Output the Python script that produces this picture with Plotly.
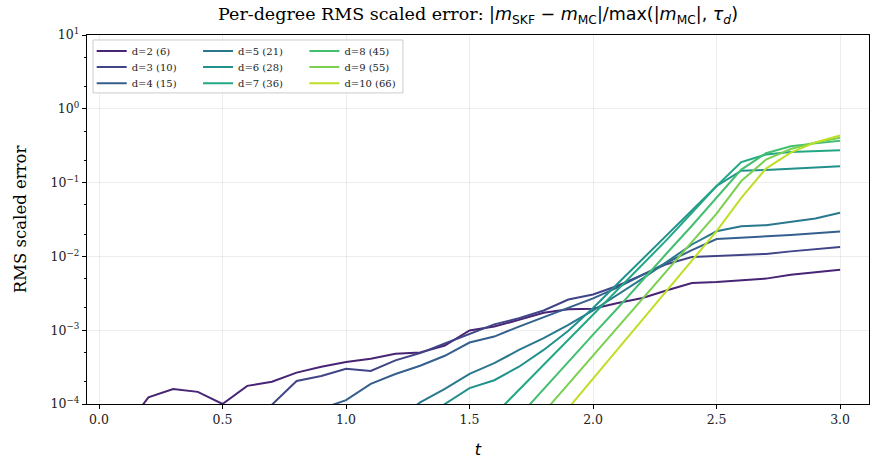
import plotly.graph_objects as go

t = [0.0, 0.1, 0.2, 0.3, 0.4, 0.5, 0.6, 0.7, 0.8, 0.9, 1.0,
     1.1, 1.2, 1.3, 1.4, 1.5, 1.6, 1.7, 1.8, 1.9, 2.0,
     2.1, 2.2, 2.3, 2.4, 2.5, 2.6, 2.7, 2.8, 2.9, 3.0]

N = None
d2 = [N, 4.4e-5, 1.23e-4, 1.6e-4, 1.46e-4, 1.0e-4, 1.76e-4, 2.0e-4, 2.66e-4, 3.2e-4, 3.7e-4,
      4.1e-4, 4.8e-4, 5.0e-4, 6.2e-4, 9.9e-4, 1.12e-3, 1.38e-3, 1.72e-3, 1.92e-3, 1.95e-3,
      2.33e-3, 2.73e-3, 3.47e-3, 4.37e-3, 4.5e-3, 4.75e-3, 5.0e-3, 5.66e-3, 6.1e-3, 6.6e-3]
d3 = [N, N, N, N, N, N, 4e-5, 0.98e-4, 2.05e-4, 2.4e-4, 3.0e-4,
      2.8e-4, 3.9e-4, 4.9e-4, 6.6e-4, 8.8e-4, 1.2e-3, 1.45e-3, 1.85e-3, 2.6e-3, 3.05e-3,
      4.0e-3, 5.6e-3, 7.9e-3, 9.8e-3, 1.01e-2, 1.04e-2, 1.08e-2, 1.17e-2, 1.25e-2, 1.34e-2]
d4 = [N, N, N, N, N, N, N, N, N, 8.6e-5, 1.13e-4,
      1.87e-4, 2.55e-4, 3.3e-4, 4.5e-4, 6.8e-4, 8.2e-4, 1.12e-3, 1.5e-3, 2.0e-3, 2.7e-3,
      3.8e-3, 5.6e-3, 8.4e-3, 1.22e-2, 1.72e-2, 1.78e-2, 1.85e-2, 1.95e-2, 2.06e-2, 2.17e-2]
d5 = [N, N, N, N, N, N, N, N, N, N, N,
      N, 6e-5, 1.05e-4, 1.6e-4, 2.56e-4, 3.57e-4, 5.4e-4, 7.8e-4, 1.18e-3, 1.85e-3,
      3.0e-3, 5.0e-3, 8.5e-3, 1.45e-2, 2.19e-2, 2.56e-2, 2.65e-2, 2.94e-2, 3.27e-2, 3.9e-2]
d6 = [N, N, N, N, N, N, N, N, N, N, N,
      N, N, 5e-5, 1.0e-4, 1.64e-4, 2.1e-4, 3.2e-4, 5.4e-4, 9.8e-4, 2.0e-3,
      4.3e-3, 9.1e-3, 1.95e-2, 4.2e-2, 9.0e-2, 0.145, 0.148, 0.153, 0.159, 0.166]
d7 = [N, N, N, N, N, N, N, N, N, N, N,
      N, N, N, N, N, 7.1e-5, 1.55e-4, 3.4e-4, 7.4e-4, 1.62e-3,
      3.5e-3, 7.8e-3, 1.7e-2, 3.9e-2, 9.0e-2, 0.19, 0.24, 0.26, 0.27, 0.275]
d8 = [N, N, N, N, N, N, N, N, N, N, N,
      N, N, N, N, N, N, 6.8e-5, 1.6e-4, 3.7e-4, 8.7e-4,
      2.0e-3, 4.8e-3, 1.12e-2, 2.6e-2, 6.2e-2, 0.15, 0.25, 0.31, 0.34, 0.37]
d9 = [N, N, N, N, N, N, N, N, N, N, N,
      N, N, N, N, N, N, N, 7.7e-5, 1.86e-4, 4.5e-4,
      1.1e-3, 2.66e-3, 6.5e-3, 1.56e-2, 3.8e-2, 0.105, 0.205, 0.285, 0.35, 0.405]
d10 = [N, N, N, N, N, N, N, N, N, N, N,
       N, N, N, N, N, N, N, 3.5e-5, 8.8e-5, 2.2e-4,
       5.5e-4, 1.39e-3, 3.5e-3, 8.8e-3, 2.2e-2, 0.062, 0.155, 0.255, 0.35, 0.435]

labels = ["d=2 (6)", "d=3 (10)", "d=4 (15)", "d=5 (21)", "d=6 (28)",
          "d=7 (36)", "d=8 (45)", "d=9 (55)", "d=10 (66)"]
series = [d2, d3, d4, d5, d6, d7, d8, d9, d10]
colors = ["#482475", "#414487", "#355f8d", "#2a788e", "#21918c",
          "#22a884", "#44bf70", "#7ad151", "#bddf26"]

x_ticks = [0.0, 0.5, 1.0, 1.5, 2.0, 2.5, 3.0]
y_tickvals = [1e-4, 1e-3, 1e-2, 1e-1, 1e0, 1e1]
y_ticktext = ["10<sup>−4</sup>", "10<sup>−3</sup>", "10<sup>−2</sup>",
              "10<sup>−1</sup>", "10<sup>0</sup>", "10<sup>1</sup>"]

SERIF = "DejaVu Serif"
SANS = "DejaVu Sans"

fig = go.Figure()

# legend grid layout (3 columns, column-major like matplotlib ncol=3)
col_x = [0.006, 0.142, 0.278]
row_y = [0.9565, 0.913, 0.869]

for i, (lab, ys, c) in enumerate(zip(labels, series, colors)):
    lname = "legend" if i == 0 else f"legend{i+1}"
    fig.add_trace(go.Scatter(
        x=t, y=ys, mode="lines", name=lab,
        line=dict(color=c, width=2),
        legend=lname, connectgaps=False,
    ))
    col, row = i // 3, i % 3
    fig.layout[lname] = dict(
        x=col_x[col], y=row_y[row], xanchor="left", yanchor="middle",
        xref="paper", yref="paper",
        bgcolor="rgba(0,0,0,0)", borderwidth=0,
        font=dict(family=SERIF, size=10, color="#222"),
        itemwidth=30,
    )

fig.add_shape(type="rect", xref="paper", yref="paper",
              x0=0.0077, x1=0.404, y0=0.843, y1=0.9865,
              fillcolor="rgba(255,255,255,0.8)",
              line=dict(color="#cccccc", width=1), layer="above")

math = ("<span style=\"font-family:'DejaVu Sans'\">|<i>m</i><sub>SKF</sub> − <i>m</i><sub>MC</sub>|/max(|<i>m</i><sub>MC</sub>|, "
        "<i>τ<sub>d</sub></i>)</span>")

fig.update_layout(
    width=872, height=459,
    margin=dict(l=87, r=3, t=35, b=55),
    paper_bgcolor="white", plot_bgcolor="white",
    title=dict(text="Per-degree RMS scaled error: " + math,
               x=0.5, xref="paper", xanchor="center",
               y=1 - 14 / 459, yref="container", yanchor="middle",
               font=dict(family=SERIF, size=17.5, color="black")),
    font=dict(family=SERIF, color="black"),
    showlegend=True,
)

fig.update_xaxes(
    range=[-0.0486, 3.117], tickvals=x_ticks, tickformat=".1f",
    ticks="outside", ticklen=4, tickwidth=1.1, tickcolor="black",
    showline=True, linecolor="black", linewidth=1.3, mirror=True,
    showgrid=True, gridcolor="rgba(0,0,0,0.07)", gridwidth=1,
    zeroline=False,
    tickfont=dict(family=SERIF, size=12.5, color="#222"),
    title=dict(text="<i>t</i>", font=dict(family=SANS, size=16, color="black"), standoff=17),
)

fig.update_yaxes(
    type="log", range=[-4, 1], tickvals=y_tickvals, ticktext=y_ticktext,
    ticks="outside", ticklen=4, tickwidth=1.1, tickcolor="black",
    minor=dict(ticks="outside", ticklen=2.2, tickwidth=0.8, tickcolor="black", showgrid=False),
    showline=True, linecolor="black", linewidth=1.3, mirror=True,
    showgrid=True, gridcolor="rgba(0,0,0,0.07)", gridwidth=1,
    zeroline=False,
    tickfont=dict(family=SERIF, size=12.5, color="#222"),
    title=dict(text="RMS scaled error", font=dict(family=SERIF, size=16.5, color="black"), standoff=19),
)

fig.write_html("out.html")
